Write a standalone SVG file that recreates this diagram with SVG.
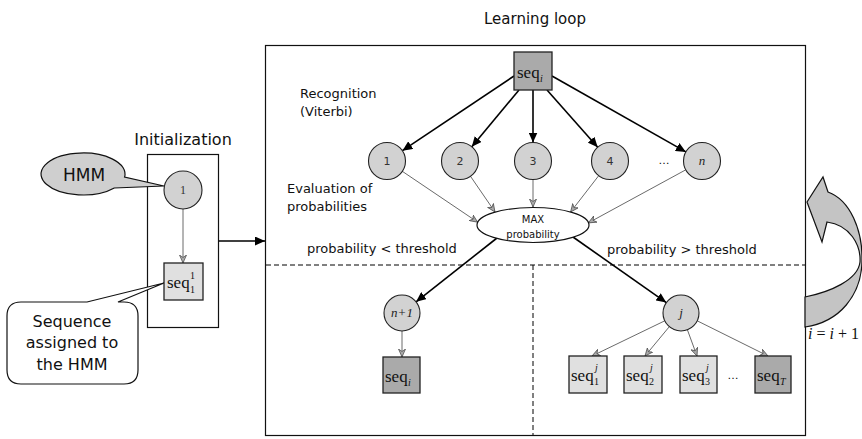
<svg xmlns="http://www.w3.org/2000/svg" width="862" height="439" viewBox="0 0 862 439">
<defs>
  <marker id="ah" markerUnits="userSpaceOnUse" markerWidth="11" markerHeight="9" refX="10" refY="4.5" orient="auto"><path d="M0,0 L10,4.5 L0,9 z" fill="#000"/></marker>
  <marker id="ahg" markerUnits="userSpaceOnUse" markerWidth="9" markerHeight="8" refX="8" refY="4" orient="auto"><path d="M0,0.5 L8,4 L0,7.5 L2.5,4 z" fill="#aaa" stroke="#444" stroke-width="0.7"/></marker>
</defs>
<style>
  .lbl{font-family:"DejaVu Sans",Verdana,sans-serif;fill:#111}
  .t13{font-size:13px}
  .node{fill:#d2d2d2;stroke:#222;stroke-width:1.1}
  .boxl{fill:#e0e0e0;stroke:#222;stroke-width:1.3}
  .boxd{fill:#aaaaaa;stroke:#222;stroke-width:1.3}
  .seq{font-family:"Liberation Serif","Times New Roman",serif;font-size:17px;fill:#111}
  .ss{font-family:"Liberation Serif","Times New Roman",serif;font-size:10px;fill:#111}
  .it{font-style:italic}
  .num{font-family:"DejaVu Sans",sans-serif;font-size:11px;fill:#333;text-anchor:middle}
  .var{font-family:"Liberation Serif","Times New Roman",serif;font-style:italic;font-size:13px;fill:#222;text-anchor:middle}
  .thick{stroke:#000;stroke-width:1.6;fill:none;marker-end:url(#ah)}
  .thin{stroke:#444;stroke-width:0.8;fill:none;marker-end:url(#ahg)}
  .dash{stroke:#000;stroke-width:1;stroke-dasharray:5 3;fill:none}
  .frame{fill:none;stroke:#111;stroke-width:1.2}
</style>

<!-- frames and labels -->
<g id="learning-loop">
  <rect class="frame" x="265.5" y="45.5" width="540" height="390"/>
  <text class="lbl" x="535" y="24" font-size="15" text-anchor="middle">Learning loop</text>
  <text class="lbl t13" x="300" y="98">Recognition</text>
  <text class="lbl t13" x="300" y="116">(Viterbi)</text>
  <text class="lbl t13" x="287" y="193">Evaluation of</text>
  <text class="lbl t13" x="287" y="211">probabilities</text>
  <text class="lbl t13" x="307" y="253">probability &lt; threshold</text>
  <text class="lbl t13" x="607" y="254">probability &gt; threshold</text>
  <line class="dash" x1="266" y1="265" x2="805" y2="265"/>
  <line class="dash" x1="533" y1="265" x2="533" y2="435"/>
</g>

<g id="initialization">
  <rect class="frame" x="147.5" y="154.5" width="71" height="173"/>
  <text class="lbl" x="183" y="145" font-size="16" text-anchor="middle">Initialization</text>
</g>

<!-- connectors -->
<g id="connectors">
  <line class="thin" x1="183" y1="209" x2="183" y2="263"/>
  <line class="thick" x1="219" y1="241" x2="265" y2="241"/>
  <line class="thick" x1="514" y1="76" x2="402.4" y2="150.7"/>
  <line class="thick" x1="519" y1="90" x2="471.8" y2="146.8"/>
  <line class="thick" x1="533" y1="90" x2="533" y2="142.5"/>
  <line class="thick" x1="547" y1="90" x2="597.7" y2="147.2"/>
  <line class="thick" x1="552" y1="76" x2="685.9" y2="151.9"/>
  <line class="thin" x1="402.3" y1="171.3" x2="477.7" y2="222.2"/>
  <line class="thin" x1="470.5" y1="176.3" x2="495" y2="212"/>
  <line class="thin" x1="533" y1="179.5" x2="533" y2="207"/>
  <line class="thin" x1="598.7" y1="175.7" x2="570.6" y2="212"/>
  <line class="thin" x1="685.8" y1="169.8" x2="588.3" y2="222.9"/>
  <line class="thick" x1="497" y1="238" x2="416.1" y2="301.8"/>
  <line class="thick" x1="573" y1="237" x2="666.3" y2="302.6"/>
  <line class="thin" x1="402" y1="331" x2="402" y2="357"/>
  <line class="thin" x1="664.8" y1="320.8" x2="592" y2="356"/>
  <line class="thin" x1="669.3" y1="326.7" x2="645" y2="356"/>
  <line class="thin" x1="687.4" y1="329.8" x2="697" y2="356"/>
  <line class="thin" x1="697.2" y1="320.8" x2="768" y2="356"/>
</g>

<!-- left callouts -->
<g id="hmm-callout">
  <path d="M124.6 177 A42 21 0 1 0 114.3 188 L164 186 Z" fill="#cfcfcf" stroke="#111" stroke-width="1.2"/>
  <text class="lbl" x="84" y="181" font-size="17" text-anchor="middle" fill="#333">HMM</text>
</g>
<g id="sequence-callout">
  <path d="M21 302 H87 L164 283 L118 302 H124 Q138 302 138 316 V370 Q138 384 124 384 H21 Q7 384 7 370 V316 Q7 302 21 302 Z" fill="#fff" stroke="#111" stroke-width="1.2"/>
  <text class="lbl" x="72" y="327" font-size="16" text-anchor="middle">Sequence</text>
  <text class="lbl" x="72" y="348" font-size="16" text-anchor="middle">assigned to</text>
  <text class="lbl" x="72" y="370" font-size="16" text-anchor="middle">the HMM</text>
</g>

<!-- init nodes -->
<g id="init-state-1">
  <circle class="node" cx="183" cy="190" r="19"/>
  <text x="183" y="194" font-family="Liberation Serif, serif" font-size="12" text-anchor="middle" fill="#333">1</text>
</g>
<g id="init-seq">
  <rect class="boxl" x="164" y="263" width="39" height="37"/>
  <text class="seq" x="167" y="288">seq</text>
  <text class="ss" x="190" y="279">1</text>
  <text class="ss" x="190" y="293">1</text>
</g>

<!-- top sequence -->
<g id="seq-i-top">
  <rect class="boxd" x="514" y="52" width="38" height="38"/>
  <text class="seq" x="517" y="78">seq</text>
  <text class="ss it" x="540" y="82">i</text>
</g>

<!-- states -->
<g id="state-1"><circle class="node" cx="387" cy="161" r="18.5"/><text class="num" x="387" y="165">1</text></g>
<g id="state-2"><circle class="node" cx="460" cy="161" r="18.5"/><text class="num" x="460" y="165">2</text></g>
<g id="state-3"><circle class="node" cx="533" cy="161" r="18.5"/><text class="num" x="533" y="165">3</text></g>
<g id="state-4"><circle class="node" cx="610" cy="161" r="18.5"/><text class="num" x="610" y="165">4</text></g>
<text class="lbl" x="664" y="164" font-size="11" text-anchor="middle" fill="#333">…</text>
<g id="state-n"><circle class="node" cx="702" cy="161" r="18.5"/><text class="var" x="702" y="165">n</text></g>

<!-- MAX -->
<g id="max-probability">
  <ellipse cx="533" cy="225" rx="56" ry="17.5" fill="#fff" stroke="#111" stroke-width="1.2"/>
  <text class="lbl" x="533" y="223" font-size="10" text-anchor="middle" fill="#333">MAX</text>
  <text class="lbl" x="533" y="238" font-size="10" text-anchor="middle" fill="#333">probability</text>
</g>

<!-- lower left -->
<g id="state-n1"><circle class="node" cx="402" cy="313" r="18"/><text class="var" x="402" y="317" font-size="12">n+1</text></g>
<g id="seq-i-new">
  <rect class="boxd" x="383" y="357" width="37" height="36"/>
  <text class="seq" x="385" y="382">seq</text>
  <text class="ss it" x="408" y="386">i</text>
</g>

<!-- lower right -->
<g id="state-j"><circle class="node" cx="681" cy="313" r="18"/><text class="var" x="681" y="317">j</text></g>
<g id="seq-1j">
  <rect class="boxl" x="569" y="356" width="38" height="37"/>
  <text class="seq" x="571" y="381">seq</text>
  <text class="ss it" x="595" y="371">j</text>
  <text class="ss" x="594" y="385">1</text>
</g>
<g id="seq-2j">
  <rect class="boxl" x="624" y="356" width="38" height="37"/>
  <text class="seq" x="626" y="381">seq</text>
  <text class="ss it" x="650" y="371">j</text>
  <text class="ss" x="649" y="385">2</text>
</g>
<g id="seq-3j">
  <rect class="boxl" x="680" y="356" width="37" height="37"/>
  <text class="seq" x="682" y="381">seq</text>
  <text class="ss it" x="706" y="371">j</text>
  <text class="ss" x="705" y="385">3</text>
</g>
<text class="lbl" x="733" y="379" font-size="11" text-anchor="middle" fill="#333">…</text>
<g id="seq-T">
  <rect class="boxd" x="755" y="356" width="36" height="37"/>
  <text class="seq" x="757" y="381">seq</text>
  <text class="ss it" x="780" y="385">T</text>
</g>

<!-- loop arrow -->
<g id="loop-arrow">
  <path d="M807 202 L823 177 L828 192 C850 200 863 230 862 262 C861 295 840 322 805 327 L805 297 C830 292 858 280 860 262 C861 245 850 225 827 222 L822 242 Z" fill="#c4c4c4" stroke="#111" stroke-width="1.2"/>
  <text x="808" y="339" font-family="Liberation Serif, serif" font-size="16" fill="#111"><tspan font-style="italic">i</tspan> = <tspan font-style="italic">i</tspan> + 1</text>
</g>
</svg>
